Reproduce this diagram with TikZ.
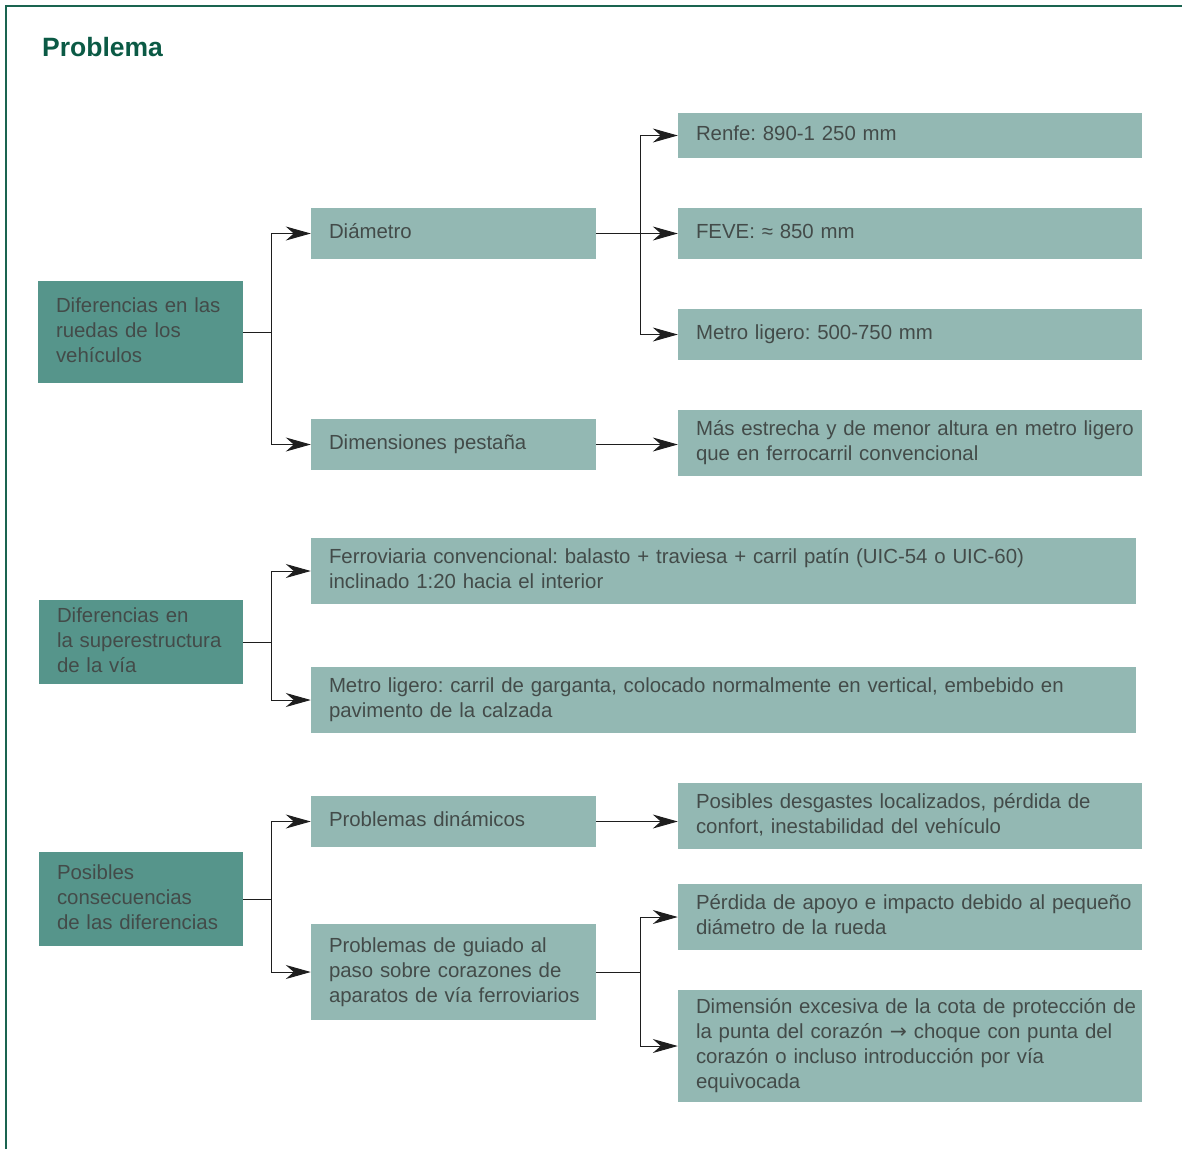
\documentclass[tikz,border=0pt]{standalone}
\usepackage{fontspec}
\setmainfont{Liberation Sans}
\newfontfamily\arrowfont{DejaVu Sans}
\usetikzlibrary{arrows.meta}
\definecolor{framegreen}{HTML}{1A6450}
\definecolor{titlegreen}{HTML}{0B5A45}
\definecolor{darkbox}{HTML}{56958B}
\definecolor{lightbox}{HTML}{93B8B3}
\definecolor{boxtext}{HTML}{434B49}
\definecolor{linecol}{HTML}{1E1E1E}
\newcommand{\boxlines}[1]{\begin{tabular}{@{}l@{}}#1\end{tabular}}
\tikzset{
  basebox/.style={rectangle, inner xsep=18pt, inner ysep=0pt, align=left, text=boxtext,
    font=\fontsize{20.4pt}{25pt}\selectfont\frenchspacing},
  dbox/.style={basebox, fill=darkbox},
  lbox/.style={basebox, fill=lightbox},
  conn/.style={draw=linecol, line width=1pt},
  arr/.style={conn, -{Stealth[length=25pt,width=14pt,inset=8pt]}}
}
\begin{document}
\begin{tikzpicture}[x=1pt,y=-1pt]
\useasboundingbox (0,0) rectangle (1182,1149);
% frame
\draw[framegreen, line width=2pt] (6,1149) -- (6,6) -- (1182,6);
\node[anchor=base west, inner sep=0pt, text=titlegreen, font=\fontsize{26.5pt}{30pt}\selectfont\bfseries] (title) at (42,56) {Problema};

% left boxes
\node[dbox, minimum width=205pt, minimum height=102pt, text width=169pt] (l1) at (140.5,332) {\boxlines{Diferencias en las\\ruedas de los\\vehículos}};
\node[dbox, minimum width=204pt, minimum height=84pt, text width=168pt] (l2) at (141,642) {\boxlines{Diferencias en\\la superestructura\\de la vía}};
\node[dbox, minimum width=204pt, minimum height=94pt, text width=168pt] (l3) at (141,899) {\boxlines{Posibles\\consecuencias\\de las diferencias}};

% middle boxes
\node[lbox, minimum width=285pt, minimum height=51pt, text width=249pt] (diam) at (453.5,233.5) {\boxlines{Diámetro}};
\node[lbox, minimum width=285pt, minimum height=51pt, text width=249pt] (pest) at (453.5,444.5) {\boxlines{Dimensiones pestaña}};
\node[lbox, minimum width=825pt, minimum height=66pt, text width=789pt] (ferro) at (723.5,571) {\boxlines{Ferroviaria convencional: balasto + traviesa + carril patín (UIC-54 o UIC-60)\\inclinado 1:20 hacia el interior}};
\node[lbox, minimum width=825pt, minimum height=66pt, text width=789pt] (metro) at (723.5,700) {\boxlines{Metro ligero: carril de garganta, colocado normalmente en vertical, embebido en\\pavimento de la calzada}};
\node[lbox, minimum width=285pt, minimum height=51pt, text width=249pt] (din) at (453.5,821.5) {\boxlines{Problemas dinámicos}};
\node[lbox, minimum width=285pt, minimum height=96pt, text width=249pt] (guia) at (453.5,972) {\boxlines{Problemas de guiado al\\paso sobre corazones de\\aparatos de vía ferroviarios}};

% right boxes
\node[lbox, minimum width=464pt, minimum height=45pt, text width=428pt] (renfe) at (910,135.5) {\boxlines{Renfe: 890-1 250 mm}};
\node[lbox, minimum width=464pt, minimum height=51pt, text width=428pt] (feve) at (910,233.5) {\boxlines{FEVE: ≈ 850 mm}};
\node[lbox, minimum width=464pt, minimum height=51pt, text width=428pt] (mlig) at (910,334.5) {\boxlines{Metro ligero: 500-750 mm}};
\node[lbox, minimum width=464pt, minimum height=66pt, text width=428pt] (mas) at (910,443) {\boxlines{Más estrecha y de menor altura en metro ligero\\que en ferrocarril convencional}};
\node[lbox, minimum width=464pt, minimum height=66pt, text width=428pt] (desg) at (910,816) {\boxlines{Posibles desgastes localizados, pérdida de\\confort, inestabilidad del vehículo}};
\node[lbox, minimum width=464pt, minimum height=66pt, text width=428pt] (apoyo) at (910,917) {\boxlines{Pérdida de apoyo e impacto debido al pequeño\\diámetro de la rueda}};
\node[lbox, minimum width=464pt, minimum height=112pt, text width=428pt] (cota) at (910,1046) {\boxlines{Dimensión excesiva de la cota de protección de\\la punta del corazón {\arrowfont →} choque con punta del\\corazón o incluso introducción por vía\\equivocada}};

% junctions
\coordinate (j1) at (271,332);
\coordinate (j2) at (640,233.5);
\coordinate (j3) at (271,642);
\coordinate (j4) at (271,899);
\coordinate (j5) at (640,972);

% connectors
\draw[conn] (l1.east) -- (j1);
\draw[arr] (j1) |- (diam.west);
\draw[arr] (j1) |- (pest.west);
\draw[arr] (diam.east) -- (feve.west);
\draw[arr] (j2) |- (renfe.west);
\draw[arr] (j2) |- (mlig.west);
\draw[arr] (pest.east) -- (pest.east -| mas.west);

\draw[conn] (l2.east) -- (j3);
\draw[arr] (j3) |- (ferro.west);
\draw[arr] (j3) |- (metro.west);

\draw[conn] (l3.east) -- (j4);
\draw[arr] (j4) |- (din.west);
\draw[arr] (j4) |- (guia.west);
\draw[arr] (din.east) -- (din.east -| desg.west);
\draw[conn] (guia.east) -- (j5);
\draw[arr] (j5) |- (apoyo.west);
\draw[arr] (j5) |- (cota.west);
\end{tikzpicture}
\end{document}
